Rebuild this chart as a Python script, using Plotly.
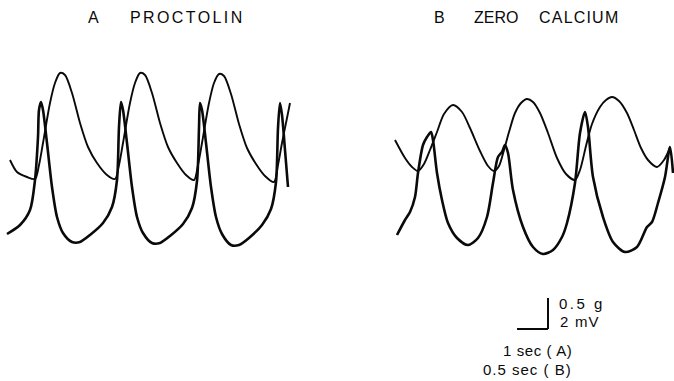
import plotly.graph_objects as go

# ---- Data (time units along x, amplitude along y; y axis drawn downward) ----
# Panel A: PROCTOLIN — broad (tension) trace
a_broad_t = [10, 17, 27, 35, 39, 43, 50, 55, 60, 65, 72, 80, 88, 97, 107, 115,
             119, 123, 130, 135, 140, 145, 152, 160, 168, 177, 186, 194,
             198, 202, 209, 214, 219, 224, 231, 239, 247, 256, 265, 274,
             278, 282, 287, 290]
a_broad_v = [160, 172, 177, 179, 165, 143, 103, 83, 73, 75, 93, 123, 147, 163, 175, 179,
             165, 143, 103, 83, 73, 75, 93, 123, 147, 163, 175, 180,
             165, 143, 103, 83, 74, 76, 94, 124, 148, 164, 176, 182,
             165, 143, 118, 103]
# Panel A: spike (electrical) trace
a_spike_t = [7, 20, 30, 35, 38, 39, 41, 43, 47, 52, 57, 63, 72, 80, 90, 103, 112,
             117, 119, 121, 123, 127, 132, 137, 143, 152, 160, 170, 183, 192,
             197, 199, 200, 202, 206, 211, 216, 222, 231, 239, 249, 262, 271,
             276, 278, 280, 282, 285, 288]
a_spike_v = [234, 225, 210, 180, 137, 110, 102, 110, 143, 187, 217, 233, 242, 242, 235, 223, 207,
             180, 127, 102, 110, 143, 187, 217, 233, 243, 243, 236, 224, 208,
             181, 128, 103, 110, 143, 187, 217, 234, 245, 245, 238, 225, 209,
             182, 128, 103, 115, 150, 187]

# Panel B: ZERO CALCIUM — broad trace
b_broad_t = [395, 405, 412, 418, 424, 430, 437, 444, 453, 462, 470, 480, 488, 494, 499, 504,
             509, 515, 521, 527, 533, 540, 548, 557, 566, 575, 580, 586, 592, 600, 606,
             612, 619, 627, 634, 641, 648, 657, 664, 670]
b_broad_v = [140, 158, 167, 171, 164, 150, 132, 114, 105, 112, 128, 151, 166, 171, 166, 150,
             132, 113, 103, 99, 102, 113, 133, 158, 174, 180, 170, 146, 124, 107, 100,
             97, 101, 113, 130, 148, 160, 167, 160, 148]
# Panel B: spike trace
b_spike_t = [397, 405, 410, 415, 418, 423, 427, 431, 433, 437, 442, 448, 457, 468, 478, 487,
             493, 498, 502, 505, 508, 513, 523, 533, 543, 553, 562, 567, 575, 580, 585,
             588, 593, 603, 613, 625, 637, 647, 652, 658, 665, 670, 673]
b_spike_v = [235, 220, 212, 197, 173, 145, 137, 132, 140, 173, 200, 223, 238, 245, 238, 217,
             183, 157, 152, 145, 153, 190, 227, 247, 254, 250, 237, 223, 183, 133, 112,
             127, 177, 217, 242, 252, 247, 227, 222, 203, 177, 147, 173]

# Labels
title_texts = ["A", "PROCTOLIN", "B", "ZERO", "CALCIUM"]
title_left_t = [87, 129, 433, 473, 538]
title_spacing = [0, 2.4, 0, 0, 1.2]
scale_labels = ["0.5 g", "2 mV", "1 sec ( A)", "0.5 sec ( B)"]
# Scale bar: corner position and lengths (time, amplitude)
scale_corner = [548, 329]
scale_len = [31, 31]

INK = "#0a0a0a"
fig = go.Figure()
for t, v, w in [(a_broad_t, a_broad_v, 1.9), (a_spike_t, a_spike_v, 2.6),
                (b_broad_t, b_broad_v, 1.9), (b_spike_t, b_spike_v, 2.6)]:
    fig.add_trace(go.Scatter(x=t, y=v, mode="lines",
                             line=dict(color=INK, width=w, shape="spline", smoothing=0.8),
                             hoverinfo="skip", showlegend=False))

# scale bar
cx, cy = scale_corner
fig.add_shape(type="line", x0=cx, x1=cx, y0=cy, y1=cy - scale_len[1], xref="x", yref="y",
              line=dict(color=INK, width=2))
fig.add_shape(type="line", x0=cx - scale_len[0], x1=cx, y0=cy, y1=cy, xref="x", yref="y",
              line=dict(color=INK, width=2))

FAM = "Liberation Sans, Arial, sans-serif"
tfont = dict(family=FAM, size=16, color=INK)
for txt, xp, sp in zip(title_texts, title_left_t, title_spacing):
    fig.add_annotation(x=xp, y=17.5, text=f'<span style="letter-spacing:{sp}px">{txt}</span>',
                       showarrow=False, xref="x", yref="y", font=tfont,
                       xanchor="left", yanchor="middle", borderpad=0)

sfont = dict(family=FAM, size=15, color=INK)
def lab(txt, x, y, anchor, sp):
    fig.add_annotation(x=x, y=y, text=f'<span style="letter-spacing:{sp}px">{txt}</span>',
                       showarrow=False, xanchor=anchor, yanchor="middle", font=sfont,
                       borderpad=0)

lab(scale_labels[0], 558, 303, "left", 2.5)
lab(scale_labels[1], 559, 321, "left", 1.2)
lab(scale_labels[2], 573, 350, "right", 0.6)
lab(scale_labels[3], 573, 369, "right", 1.0)

fig.update_layout(width=674, height=381, margin=dict(l=0, r=0, t=0, b=0),
                  paper_bgcolor="white", plot_bgcolor="white",
                  xaxis=dict(range=[0, 674], visible=False, fixedrange=True),
                  yaxis=dict(range=[381, 0], visible=False, fixedrange=True))
fig.write_html("out.html", config={"displayModeBar": False},
               post_script="document.body.style.margin='0';document.body.style.overflow='hidden';")
